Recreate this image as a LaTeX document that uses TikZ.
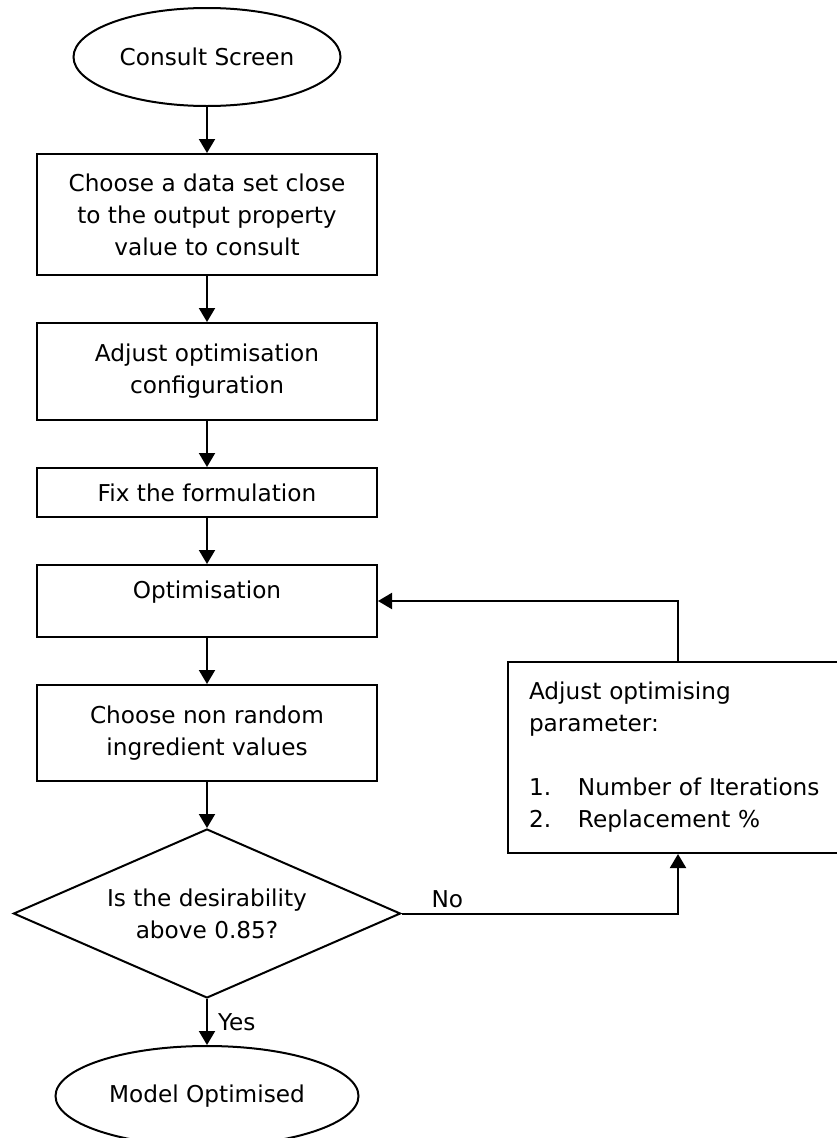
\documentclass[tikz,border=0pt]{standalone}
\usepackage{fontspec}
\setmainfont{DejaVu Sans}
\usetikzlibrary{arrows.meta,positioning,shapes.geometric}

\begin{document}
\begin{tikzpicture}[
  >={Triangle[length=14pt,width=16pt]},
  node distance=46pt,
  line width=2pt,
  txt/.style={font=\fontsize{23.2}{32}\selectfont},
  box/.style={
    txt,
    draw,
    align=center,
    minimum width=340pt
  },
  term/.style={txt, draw, ellipse, inner sep=0pt},
  decision/.style={txt, draw, diamond, aspect=2.29, inner sep=0pt,
    align=center, minimum width=387pt, minimum height=169pt},
  note/.style={txt, draw, align=left, text width=298pt,
    inner xsep=21pt, minimum height=191pt},
  lbl/.style={txt, inner sep=0pt},
  arr/.style={->}
]
\useasboundingbox (0,0) rectangle (837pt,-1138pt);

% main column
\node[term, minimum width=267pt, minimum height=98pt] (start) at (207pt,-57pt)
{Consult Screen};
\node[box, below=of start, minimum height=121pt] (pick)
{Choose a data set close\\to the output property\\value to consult};
\node[box, below=of pick, minimum height=97pt] (config)
{Adjust optimisation\\configuration};
\node[box, below=of config, minimum height=49pt] (fix)
{Fix the formulation};
\node[box, below=of fix, minimum height=72pt, text depth=22pt] (optim)
{Optimisation};
\node[box, below=of optim, minimum height=96pt] (values)
{Choose non random\\ingredient values};
\node[decision, below=of values] (check)
{Is the desirability\\above 0.85?};
\node[term, below=of check, minimum width=303pt, minimum height=100pt] (done)
{Model Optimised};

% side box for the loop back
\node[note] (param) at (678pt,-757.5pt)
{Adjust optimising\\parameter:\\[32pt]
\makebox[49pt][l]{1.}Number of Iterations\\
\makebox[49pt][l]{2.}Replacement \%};

\draw[arr] (start) -- (pick);
\draw[arr] (pick) -- (config);
\draw[arr] (config) -- (fix);
\draw[arr] (fix) -- (optim);
\draw[arr] (optim) -- (values);
\draw[arr] (values) -- (check);
\draw[arr] (check) -- node[lbl, right=10pt] {Yes} (done);
\draw[arr] (check.east) -| node[lbl, pos=0.083, above=5pt] {No} (param.south);
\draw[arr] (param.north) |- (optim.east);
\end{tikzpicture}
\end{document}
